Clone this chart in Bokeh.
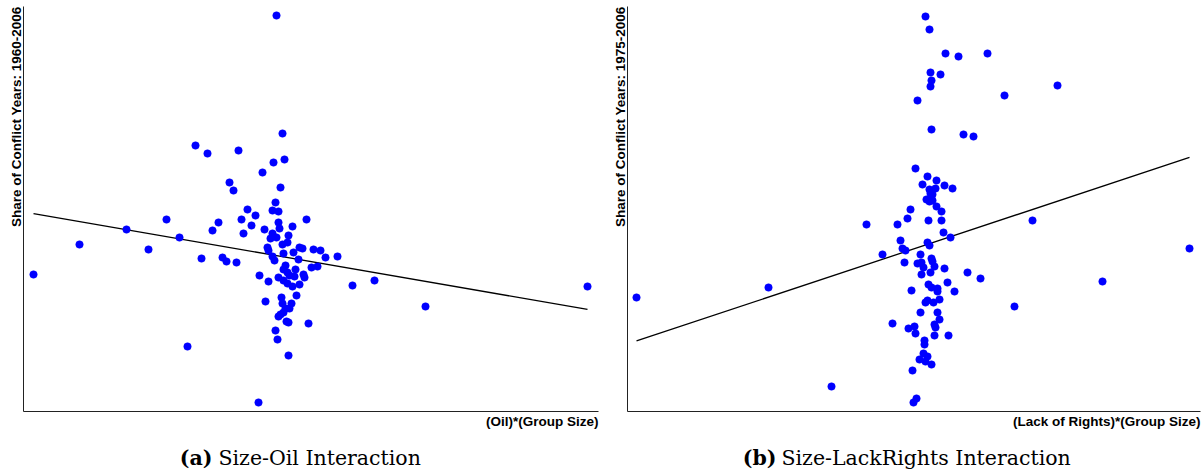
from bokeh.plotting import figure
from bokeh.models import Range1d, Label, FixedTicker, Title
from bokeh.layouts import row, column
from bokeh.embed import file_html
from bokeh.resources import INLINE

# ---- Panel (a): (Oil)*(Group Size) vs share of conflict years 1960-2006 (residualised units)
oil_x = [-0.04, -0.85, -0.73, -0.42, 0.02, 0.04, -0.07, -0.18, -0.51, -0.47,
         0.00, -0.05, -0.08, -0.02, -0.33, -0.25, -1.14, -0.62, -0.39, -0.29,
         -0.68, -0.37, -0.02, -0.01, -0.16, 0.26, 0.12, -1.01, -0.08, -0.10,
         -0.04, 0.08, 0.07, 0.02, -0.13, 0.19, 0.22, 0.33, 0.40, -1.32,
         -0.79, -0.58, -0.54, -0.44, -0.12, 0.03, 0.13, 0.45, 0.57, -0.08,
         -0.06, 0.18, 0.31, 0.37, 0.72, 0.94, 0.05, 0.03, 0.15, 0.07,
         0.09, 0.14, 0.23, 0.24, -0.21, -0.02, -0.12, 0.03, 0.07, 0.19,
         0.12, 0.16, 0.01, -0.15, 0.02, 0.11, 0.05, 0.09, 0.03, 0.00,
         -0.02, 0.06, 0.08, 0.28, -0.05, -0.03, -0.93, 0.08, -0.22, -2.47,
         -2.01, -1.54, 1.45, 3.07]
oil_y = [2.45, 1.15, 1.07, 1.10, 1.27, 1.01, 0.98, 0.88, 0.78, 0.70,
         0.73, 0.58, 0.50, 0.49, 0.51, 0.45, 0.41, 0.38, 0.41, 0.35,
         0.30, 0.27, 0.38, 0.32, 0.31, 0.41, 0.34, 0.23, 0.27, 0.22,
         0.23, 0.25, 0.18, 0.16, 0.13, 0.13, 0.12, 0.11, 0.10, 0.11,
         0.02, 0.03, -0.01, -0.02, 0.10, 0.07, 0.08, 0.03, 0.04, 0.04,
         0.00, 0.01, -0.07, -0.06, -0.25, -0.20, -0.05, -0.09, -0.09, -0.12,
         -0.15, -0.16, -0.14, -0.17, -0.15, -0.17, -0.21, -0.20, -0.23, -0.24,
         -0.26, -0.35, -0.37, -0.41, -0.43, -0.43, -0.48, -0.48, -0.52, -0.54,
         -0.56, -0.61, -0.62, -0.63, -0.70, -0.79, -0.86, -0.95, -1.42, -0.14,
         0.16, 0.31, -0.46, -0.26]
oil_slope = -0.173
oil_intercept = 0.042

# ---- Panel (b): (Lack of Rights)*(Group Size) vs share of conflict years 1975-2006
rights_x = [0.00, 0.04, 0.20, 0.33, 0.62, 0.05, 0.15, 0.06, 0.05, -0.08,
            0.79, 1.32, 0.06, 0.38, 0.48, -0.10, 0.02, -0.03, 0.11, 0.19,
            0.27, 0.04, 0.10, 0.05, 0.07, 0.01, 0.04, 0.07, 0.11, 0.16,
            -0.15, -0.18, 0.03, 0.16, -0.59, -0.28, 0.18, -0.25, 0.02, 0.04,
            0.25, -0.23, -0.20, -0.43, -0.05, -0.21, 0.06, 0.07, 0.09, -0.08,
            -0.04, -0.02, 0.19, -0.04, 0.05, 0.42, 0.55, 0.22, 0.03, 0.06,
            0.12, 0.12, 0.29, -0.14, 0.00, 0.02, 0.08, 0.14, -0.05, 0.12,
            0.14, -0.33, -0.17, -0.11, -0.10, 0.09, 0.10, 0.09, 0.23, -0.01,
            -0.01, -0.02, 0.02, -0.06, 0.00, 0.06, -0.13, -0.09, -0.12, -2.89,
            -1.57, -0.94, 1.07, 1.77, 2.64, 0.89]
rights_y = [2.44, 2.31, 2.07, 2.04, 2.07, 1.88, 1.86, 1.80, 1.74, 1.60,
            1.65, 1.75, 1.31, 1.26, 1.24, 0.92, 0.84, 0.76, 0.80, 0.75,
            0.72, 0.71, 0.72, 0.67, 0.66, 0.61, 0.59, 0.60, 0.54, 0.49,
            0.51, 0.42, 0.40, 0.40, 0.36, 0.36, 0.28, 0.20, 0.18, 0.15,
            0.23, 0.12, 0.10, 0.06, 0.06, -0.02, 0.02, -0.01, -0.06, -0.03,
            -0.02, -0.07, -0.08, -0.14, -0.12, -0.12, -0.18, -0.22, -0.24, -0.27,
            -0.28, -0.31, -0.31, -0.30, -0.42, -0.40, -0.42, -0.39, -0.52, -0.52,
            -0.59, -0.63, -0.68, -0.66, -0.73, -0.64, -0.67, -0.75, -0.75, -0.80,
            -0.84, -0.93, -0.96, -0.99, -1.01, -1.04, -1.10, -1.38, -1.42, -0.37,
            -0.27, -1.26, 0.40, -0.21, 0.12, -0.46]
rights_slope = 0.332
rights_intercept = 0.155

y_labels = ["Share of Conflict Years: 1960-2006", "Share of Conflict Years: 1975-2006"]
x_labels = ["(Oil)*(Group Size)", "(Lack of Rights)*(Group Size)"]
caption_tags = ["(a)", "(b)"]
caption_texts = ["Size-Oil Interaction", "Size-LackRights Interaction"]

SANS = "Liberation Sans"
SERIF = "DejaVu Serif"
MAIN_H = 436
CAP_H = 34


def make_panel(xs, ys, slope, icpt, xr, yr, width, bl, br, ylab, xlab):
    p = figure(width=width, height=MAIN_H, x_range=Range1d(*xr), y_range=Range1d(*yr),
               output_backend="svg", toolbar_location=None,
               min_border_left=bl, min_border_right=br, min_border_top=6, min_border_bottom=25)
    p.outline_line_color = None
    p.grid.visible = False
    p.background_fill_color = "white"
    p.border_fill_color = "white"
    for ax in (p.xaxis, p.yaxis):
        ax.ticker = FixedTicker(ticks=[])
        ax.major_tick_line_color = None
        ax.minor_tick_line_color = None
        ax.major_tick_out = 0
        ax.major_tick_in = 0
        ax.major_label_standoff = 0
        ax.major_label_text_font_size = "0px"
        ax.axis_line_color = "#222222"
        ax.axis_line_width = 1

    p.add_layout(Title(text=ylab, align="right", standoff=0, offset=0,
                       text_font=SANS, text_font_style="bold", text_font_size="13.5px",
                       text_color="black"), "left")
    p.add_layout(Title(text=xlab, align="right", standoff=0, offset=0,
                       text_font=SANS, text_font_style="bold", text_font_size="13.5px",
                       text_color="black"), "below")

    x0, x1 = min(xs), max(xs)
    p.line([x0, x1], [icpt + slope * x0, icpt + slope * x1], line_color="black", line_width=1.3)
    p.scatter(xs, ys, size=7.5, fill_color="#0000ff", line_color="#0000ff", line_width=0.5)
    return p


def make_caption(width, tag, cap, tag_right, cap_left):
    c = figure(width=width, height=CAP_H, x_range=Range1d(0, width), y_range=Range1d(0, CAP_H),
               output_backend="svg", toolbar_location=None, min_border=0,
               x_axis_location=None, y_axis_location=None)
    c.outline_line_color = None
    c.grid.visible = False
    c.add_layout(Label(x=tag_right, y=13, text=tag, text_align="right", text_baseline="middle",
                       text_font=SERIF, text_font_style="bold", text_font_size="20.5px",
                       text_color="black"))
    c.add_layout(Label(x=cap_left, y=13, text=cap, text_align="left", text_baseline="middle",
                       text_font=SERIF, text_font_style="normal", text_font_size="20.5px",
                       text_color="black"))
    return c


p1 = make_panel(oil_x, oil_y, oil_slope, oil_intercept, (-2.57, 3.18), (-1.51, 2.54),
                608, 23, 10, y_labels[0], x_labels[0])
p2 = make_panel(rights_x, rights_y, rights_slope, rights_intercept, (-2.98, 2.75), (-1.51, 2.54),
                594, 19, 2, y_labels[1], x_labels[1])
c1 = make_caption(608, caption_tags[0], caption_texts[0], 212, 218)
c2 = make_caption(594, caption_tags[1], caption_texts[1], 168, 173)

layout = column(row(p1, p2), row(c1, c2))
open("out.html", "w").write(file_html(layout, INLINE))
